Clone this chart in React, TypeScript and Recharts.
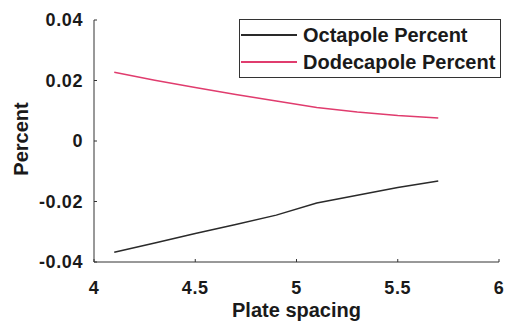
import React from "react"
import { LineChart, Line, XAxis, YAxis, Legend } from "recharts"

const spacing = [4.1, 4.3, 4.5, 4.7, 4.9, 5.1, 5.3, 5.5, 5.7]
const octapole = [-0.0368, -0.0337, -0.0306, -0.0276, -0.0245, -0.0205, -0.0179, -0.0154, -0.0132]
const dodecapole = [0.0227, 0.0201, 0.0177, 0.0154, 0.0132, 0.0111, 0.0096, 0.0084, 0.0076]
const seriesNames = ["Octapole Percent", "Dodecapole Percent"]
const xTicks = [4, 4.5, 5, 5.5, 6]
const yTicks = [-0.04, -0.02, 0, 0.02, 0.04]

const data = spacing.map((s, i) => ({
  spacing: s,
  octapole: octapole[i],
  dodecapole: dodecapole[i],
}))

const font = "'Liberation Sans', Arial, sans-serif"
const tickStyle = {
  fontSize: 18,
  fontWeight: 700,
  fill: "#1a1a1a",
  fontFamily: font,
  letterSpacing: 0.6,
}

function LegendBox({ payload }: any) {
  const items = [...(payload || [])].sort(
    (a: any, b: any) => seriesNames.indexOf(a.value) - seriesNames.indexOf(b.value)
  )
  return (
    <div
      style={{
        width: 260,
        height: 57,
        border: "1px solid #333",
        background: "#fff",
        fontFamily: font,
        fontWeight: 700,
        fontSize: 20,
        color: "#1a1a1a",
        position: "relative",
      }}
    >
      {items.map((p: any, i: number) => (
        <div
          key={p.value}
          style={{
            position: "absolute",
            left: 1,
            top: 3 + i * 27,
            height: 24,
            display: "flex",
            alignItems: "center",
            whiteSpace: "nowrap",
          }}
        >
          <span
            style={{ display: "inline-block", width: 56, height: 1.5, background: p.color, marginRight: 6 }}
          />
          {p.value}
        </div>
      ))}
    </div>
  )
}

const fmt = (v: number) => (v === 0 ? "0" : String(v))

export default function App() {
  return (
    <div style={{ position: "fixed", left: 0, top: 0, width: 508, height: 325, background: "#fff" }}>
      <LineChart
        width={508}
        height={325}
        data={data}
        margin={{ top: 20, right: 9, bottom: 0, left: 0 }}
      >
        <XAxis
          dataKey="spacing"
          type="number"
          domain={[4, 6]}
          ticks={xTicks}
          interval={0}
          tick={tickStyle}
          tickSize={-3}
          tickMargin={22}
          height={63}
          stroke="#333"
          label={{
            value: "Plate spacing",
            position: "insideBottom",
            offset: 8,
            style: { fontSize: 20, fontWeight: 700, fill: "#1a1a1a", fontFamily: font },
          }}
        />
        <YAxis
          type="number"
          domain={[-0.04, 0.04]}
          ticks={yTicks}
          interval={0}
          tickFormatter={fmt}
          tick={tickStyle}
          tickSize={-3}
          tickMargin={14}
          width={94}
          stroke="#333"
          label={{
            content: () => (
              <text
                x={28}
                y={139}
                transform="rotate(-90, 28, 139)"
                textAnchor="middle"
                style={{ fontSize: 20, fontWeight: 700, fill: "#1a1a1a", fontFamily: font }}
              >
                Percent
              </text>
            ),
          }}
        />
        <Legend
          layout="vertical"
          align="center"
          verticalAlign="middle"
          content={<LegendBox />}
          wrapperStyle={{ position: "absolute", left: 239, top: 19, width: "auto" }}
        />
        <Line
          dataKey="octapole"
          name={seriesNames[0]}
          stroke="#2a2a2a"
          strokeWidth={1.5}
          dot={false}
          isAnimationActive={false}
        />
        <Line
          dataKey="dodecapole"
          name={seriesNames[1]}
          stroke="#e03c6e"
          strokeWidth={1.5}
          dot={false}
          isAnimationActive={false}
        />
      </LineChart>
    </div>
  )
}
